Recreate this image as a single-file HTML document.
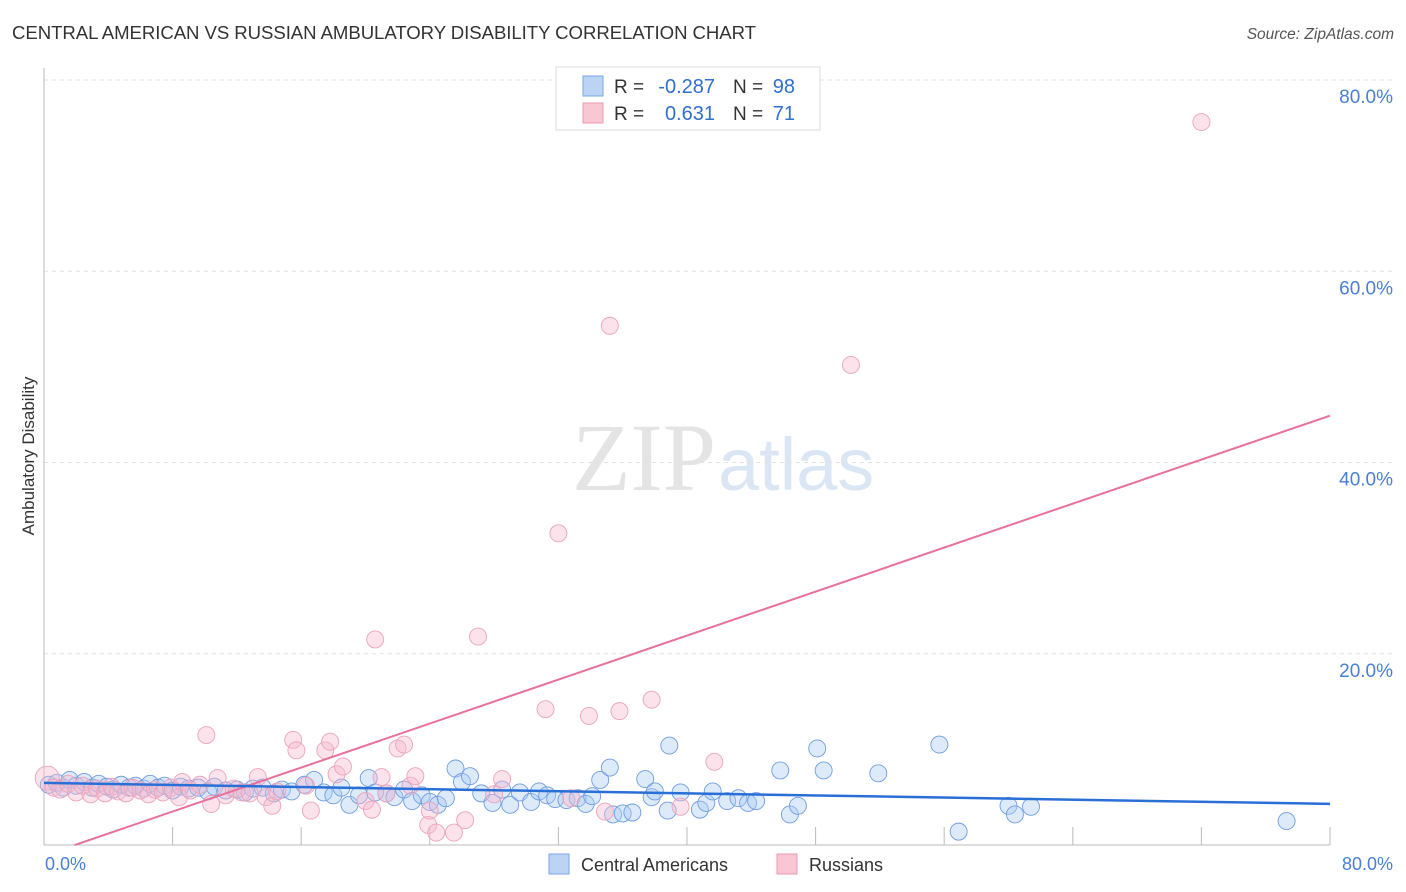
<!DOCTYPE html>
<html><head><meta charset="utf-8"><style>
body{margin:0;width:1406px;height:892px;background:#fff;font-family:"Liberation Sans",sans-serif;overflow:hidden}
svg{position:absolute;left:0;top:0}
</style></head><body>
<svg width="1406" height="892">
<text x="12" y="39" font-size="18.6" fill="#333" textLength="744">CENTRAL AMERICAN VS RUSSIAN AMBULATORY DISABILITY CORRELATION CHART</text>
<text x="1394" y="39" font-size="15.5" fill="#555" font-style="italic" text-anchor="end">Source: ZipAtlas.com</text>
<text x="716" y="490" font-size="96" fill="#e4e4e4" text-anchor="end" font-family="Liberation Serif,serif">ZIP</text>
<text x="718" y="490" font-size="74" fill="#dbe6f5">atlas</text>
<g id="grid"></g>
<g id="axes"></g>
<g id="pts"></g>
<g id="lines"></g>
<text transform="translate(34,456) rotate(-90)" font-size="17" fill="#333" text-anchor="middle">Ambulatory Disability</text>
<text x="45" y="870" font-size="18" fill="#4a7fd6">0.0%</text>
<text x="1393" y="870" font-size="18" fill="#4a7fd6" text-anchor="end">80.0%</text>
<g>
<rect x="556" y="67" width="264" height="63" fill="#fff" stroke="#ddd"/>
<rect x="583" y="76" width="20" height="20" fill="#bcd4f4" stroke="#7aa6e6"/>
<rect x="583" y="103" width="20" height="20" fill="#f9c6d4" stroke="#ee9ab2"/>
<text x="614" y="93" font-size="19" fill="#333">R =</text>
<text x="715" y="93" font-size="20" fill="#2f6fd0" text-anchor="end">-0.287</text>
<text x="733" y="93" font-size="19" fill="#333">N =</text>
<text x="795" y="93" font-size="20" fill="#2f6fd0" text-anchor="end">98</text>
<text x="614" y="120" font-size="19" fill="#333">R =</text>
<text x="715" y="120" font-size="20" fill="#2f6fd0" text-anchor="end">0.631</text>
<text x="733" y="120" font-size="19" fill="#333">N =</text>
<text x="795" y="120" font-size="20" fill="#2f6fd0" text-anchor="end">71</text>
</g>
<g>
<rect x="549" y="854" width="20" height="20" fill="#bcd4f4" stroke="#7aa6e6"/>
<text x="581" y="871" font-size="18" fill="#333">Central Americans</text>
<rect x="777" y="854" width="20" height="20" fill="#f9c6d4" stroke="#ee9ab2"/>
<text x="809" y="871" font-size="18" fill="#333">Russians</text>
</g>
</svg>
<script>
const yTicks=[20,40,60,80];
const blueX=[0.3,0.8,1.2,1.6,2.0,2.5,3.0,3.4,3.9,4.3,4.8,5.3,5.7,6.2,6.6,7.1,7.5,8.0,8.5,9.0,9.6,10.2,10.6,11.3,12.0,12.5,13.0,13.6,14.3,14.8,15.4,16.2,16.8,17.4,18.0,18.5,19.0,19.6,20.2,20.6,21.3,21.8,22.4,22.9,23.5,24.0,24.5,25.0,25.6,26.0,26.5,27.2,27.9,28.5,29.0,29.6,30.3,30.8,31.3,31.8,32.5,33.2,33.7,34.1,34.6,35.2,35.4,36.0,36.6,37.4,37.8,38.0,38.8,38.9,39.6,40.8,41.2,41.6,42.5,43.2,43.8,44.3,45.8,46.4,46.9,48.1,48.5,51.9,55.7,56.9,60.0,60.4,61.4,77.3];
const blueY=[6.3,6.5,6.0,6.8,6.2,6.6,6.0,6.4,6.1,5.8,6.3,6.0,6.2,5.9,6.4,6.0,6.2,5.7,6.1,5.9,6.0,5.6,6.1,5.7,5.8,5.5,5.9,6.0,5.4,5.8,5.6,6.3,6.8,5.5,5.2,6.0,4.2,5.2,7.0,5.5,5.4,5.0,5.8,4.6,5.2,4.5,4.2,4.9,8.0,6.6,7.2,5.4,4.4,5.8,4.2,5.5,4.5,5.6,5.2,4.8,4.7,4.9,4.3,5.1,6.8,8.1,3.2,3.3,3.4,6.9,5.0,5.6,3.6,10.4,5.5,3.7,4.4,5.6,4.6,4.9,4.4,4.6,7.8,3.2,4.1,10.1,7.8,7.5,10.5,1.4,4.1,3.2,4.0,2.5];
const pinkX=[0.2,0.6,1.0,1.5,2.0,2.4,2.9,3.3,3.8,4.2,4.6,5.1,5.5,6.0,6.5,6.9,7.4,7.9,8.4,8.6,9.1,9.7,10.1,10.4,10.8,11.3,11.8,12.3,12.8,13.3,13.8,14.2,14.5,15.5,15.7,16.3,16.6,17.5,17.8,18.2,18.6,20.0,20.4,20.6,21.0,21.3,22.0,22.4,22.8,23.1,23.9,24.0,24.4,25.5,26.2,27.0,28.0,28.5,32.0,31.2,32.8,33.9,34.9,35.2,35.8,37.8,39.6,41.7,50.2,72.0];
const pinkY=[7.0,6.0,5.8,6.4,5.5,6.2,5.3,5.9,5.4,6.1,5.6,5.4,6.0,5.7,5.3,5.8,5.5,6.0,5.0,6.6,5.7,6.3,11.5,4.3,7.0,5.2,5.9,5.5,5.4,7.1,5.0,4.1,5.6,11.0,9.9,6.2,3.6,9.9,10.8,7.4,8.2,4.6,3.7,21.5,7.1,5.4,10.1,10.5,6.2,7.2,2.1,3.6,1.3,1.3,2.6,21.8,5.3,6.9,32.6,14.2,4.9,13.5,3.5,54.3,14.0,15.2,4.0,8.7,50.2,75.6];
const blueLine=[6.5,4.3];
const pinkLine=[-1.1,44.9];
const NS='http://www.w3.org/2000/svg';
const X0=44,X1=1330,Y0=845,Y1=80;
const sx=v=>X0+(v/80)*(X1-X0);
const sy=v=>Y0-(v/80)*(Y0-Y1);
function mk(t,a,p){const e=document.createElementNS(NS,t);for(const k in a)e.setAttribute(k,a[k]);document.getElementById(p).appendChild(e);return e;}
yTicks.forEach(t=>{
 const l=mk('line',{x1:X0,x2:1394,y1:sy(t),y2:sy(t),stroke:'#e2e2e2','stroke-dasharray':'4,4'},'grid');
 
 
 const tx=mk('text',{x:1393,y:sy(t)+23,'font-size':19,fill:'#4a7fd6','text-anchor':'end'},'grid');
 tx.textContent=t.toFixed(1)+'%';
 
 
});
const ax=mk('line',{x1:X0,x2:X0,y1:68,y2:Y0,stroke:'#bbb'},'axes');


const bx=mk('line',{x1:X0,x2:X1,y1:Y0,y2:Y0,stroke:'#bbb'},'axes');


for(let i=1;i<=10;i++){const t=mk('line',{x1:sx(i*8),x2:sx(i*8),y1:Y0-18,y2:Y0,stroke:'#bbb'},'axes');
 
 }
blueX.forEach((x,i)=>{const c=mk('circle',{cx:sx(x),cy:sy(blueY[i]),r:8.5,fill:'rgba(170,202,242,0.4)',stroke:'#6f9de2','stroke-width':0.9},'pts');
 
 });
pinkX.forEach((x,i)=>{const c=mk('circle',{cx:sx(x),cy:sy(pinkY[i]),r:i==0?12:8.5,fill:'rgba(248,186,204,0.4)',stroke:'#eda3b9','stroke-width':0.9},'pts');
 
 });
const pl=mk('line',{x1:sx(1.9),y1:sy(pinkLine[0]+(pinkLine[1]-pinkLine[0])*1.9/80),x2:sx(80),y2:sy(pinkLine[1]),stroke:'#e8709a','stroke-width':2},'lines');


const bl=mk('line',{x1:sx(0),y1:sy(blueLine[0]),x2:sx(80),y2:sy(blueLine[1]),stroke:'#2a6fd6','stroke-width':2.5},'lines');


</script>
</body></html>
